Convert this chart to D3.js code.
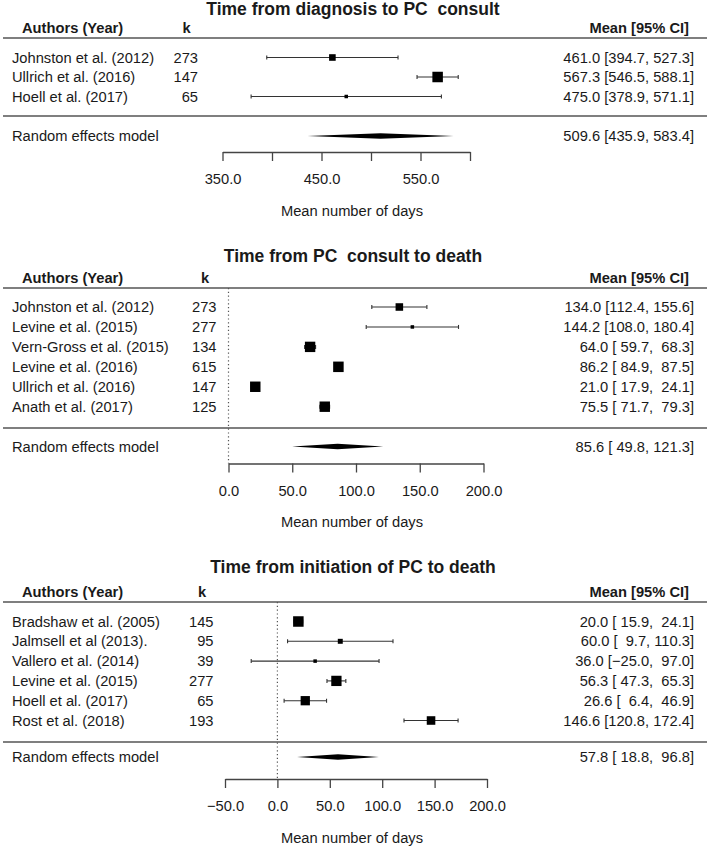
<!DOCTYPE html>
<html>
<head>
<meta charset="utf-8">
<script src="https://cdn.jsdelivr.net/npm/d3@7"></script>
<style>
  body { margin: 0; background: #fff; }
  svg text { font-family: "Liberation Sans", Arial, Helvetica, sans-serif; fill: #1a1a1a; white-space: pre; }
</style>
</head>
<body>
<script>
// ---- data ----
var titles = [
  "Time from diagnosis to PC  consult",
  "Time from PC  consult to death",
  "Time from initiation of PC to death"
];

var p1Studies = ["Johnston et al. (2012)", "Ullrich et al. (2016)", "Hoell et al. (2017)"];
var p1K    = [273, 147, 65];
var p1Mean = [461.0, 567.3, 475.0];
var p1Lo   = [394.7, 546.5, 378.9];
var p1Hi   = [527.3, 588.1, 571.1];
var p1Re   = [509.6, 435.9, 583.4];
var p1Ticks = [350, 400, 450, 500, 550, 600];
var p1TickLabels = ["350.0", "", "450.0", "", "550.0", ""];

var p2Studies = ["Johnston et al. (2012)", "Levine et al. (2015)", "Vern-Gross et al. (2015)",
                 "Levine et al. (2016)", "Ullrich et al. (2016)", "Anath et al. (2017)"];
var p2K    = [273, 277, 134, 615, 147, 125];
var p2Mean = [134.0, 144.2, 64.0, 86.2, 21.0, 75.5];
var p2Lo   = [112.4, 108.0, 59.7, 84.9, 17.9, 71.7];
var p2Hi   = [155.6, 180.4, 68.3, 87.5, 24.1, 79.3];
var p2Re   = [85.6, 49.8, 121.3];
var p2Ticks = [0, 50, 100, 150, 200];
var p2TickLabels = ["0.0", "50.0", "100.0", "150.0", "200.0"];

var p3Studies = ["Bradshaw et al. (2005)", "Jalmsell et al (2013).", "Vallero et al. (2014)",
                 "Levine et al. (2015)", "Hoell et al. (2017)", "Rost et al. (2018)"];
var p3K    = [145, 95, 39, 277, 65, 193];
var p3Mean = [20.0, 60.0, 36.0, 56.3, 26.6, 146.6];
var p3Lo   = [15.9, 9.7, -25.0, 47.3, 6.4, 120.8];
var p3Hi   = [24.1, 110.3, 97.0, 65.3, 46.9, 172.4];
var p3Re   = [57.8, 18.8, 96.8];
var p3Ticks = [-50, 0, 50, 100, 150, 200];
var p3TickLabels = ["\u221250.0", "0.0", "50.0", "100.0", "150.0", "200.0"];

// ---- layout ----
var width = 709, height = 848;
var fontSize = 14.7;

var layouts = [
  { titleY: 15,  headY: 28,  lineTop: 38,  first: 57.5,  last: 96.5,  lineBot: 116, reY: 136, axisY: 152,
    domain: [350, 600], range: [222.5, 470], kX: 198, refLine: false },
  { titleY: 262, headY: 278, lineTop: 288, first: 307,   last: 406.7, lineBot: 428, reY: 446.5, axisY: 463.5,
    domain: [0, 200], range: [228.5, 483.5], kX: 216.5, refLine: true },
  { titleY: 573, headY: 592, lineTop: 602, first: 621.5, last: 720.5, lineBot: 742, reY: 757, axisY: 779,
    domain: [-50, 200], range: [225, 487], kX: 213.5, refLine: true }
];

var panels = [
  { studies: p1Studies, k: p1K, mean: p1Mean, lo: p1Lo, hi: p1Hi, re: p1Re, ticks: p1Ticks, tickLabels: p1TickLabels },
  { studies: p2Studies, k: p2K, mean: p2Mean, lo: p2Lo, hi: p2Hi, re: p2Re, ticks: p2Ticks, tickLabels: p2TickLabels },
  { studies: p3Studies, k: p3K, mean: p3Mean, lo: p3Lo, hi: p3Hi, re: p3Re, ticks: p3Ticks, tickLabels: p3TickLabels }
];

var svg = d3.select("body").append("svg")
    .attr("width", width)
    .attr("height", height);

var minus = function(s) { return s.replace(/-/g, "\u2212"); };

var padLeft = function(s, n) {
  while (s.length < n) s = " " + s;
  return s;
};

// random-effects (DerSimonian-Laird) weights from the CIs, used for square size like metafor
var reWeights = function(p) {
  var vi = p.lo.map(function(l, i) { var se = (p.hi[i] - l) / 3.92; return se * se; });
  var wi = vi.map(function(v) { return 1 / v; });
  var sw = d3.sum(wi);
  var ybar = d3.sum(wi.map(function(w, i) { return w * p.mean[i]; })) / sw;
  var Q = d3.sum(wi.map(function(w, i) { return w * Math.pow(p.mean[i] - ybar, 2); }));
  var C = sw - d3.sum(wi.map(function(w) { return w * w; })) / sw;
  var tau2 = Math.max(0, (Q - (vi.length - 1)) / C);
  return vi.map(function(v) { return 1 / (v + tau2); });
};

panels.forEach(function(p, pi) {
  var L = layouts[pi];
  var g = svg.append("g").attr("class", "panel-" + pi);

  var x = d3.scaleLinear().domain(L.domain).range(L.range);
  var y = d3.scalePoint().domain(d3.range(p.studies.length)).range([L.first, L.last]);

  var w = reWeights(p);
  var size = d3.scaleLinear().domain(d3.extent(w)).range([3.5, 10.5]);

  // text width for CI columns (R pads with spaces)
  var loStr = p.lo.concat([p.re[1]]).map(function(v) { return v.toFixed(1); });
  var hiStr = p.hi.concat([p.re[2]]).map(function(v) { return v.toFixed(1); });
  var loW = d3.max(loStr, function(s) { return s.length; });
  var hiW = d3.max(hiStr, function(s) { return s.length; });
  var ciText = function(m, i) {
    return minus(m.toFixed(1) + " [" + padLeft(loStr[i], loW) + ", " + padLeft(hiStr[i], hiW) + "]");
  };

  // title
  g.append("text")
      .attr("x", 353)
      .attr("y", L.titleY)
      .attr("text-anchor", "middle")
      .attr("font-size", 17.5)
      .attr("font-weight", "bold")
      .text(titles[pi]);

  // headers
  var head = g.append("g")
      .attr("font-size", fontSize)
      .attr("font-weight", "bold");
  head.append("text").attr("x", 22).attr("y", L.headY).attr("dy", "0.35em").text("Authors (Year)");
  head.append("text").attr("x", L.kX - 11.5).attr("y", L.headY).attr("dy", "0.35em")
      .attr("text-anchor", "middle").text("k");
  head.append("text").attr("x", 689).attr("y", L.headY).attr("dy", "0.35em")
      .attr("text-anchor", "end").text("Mean [95% CI]");

  // separator lines
  [L.lineTop, L.lineBot].forEach(function(ly) {
    g.append("line")
        .attr("x1", 3).attr("x2", 707)
        .attr("y1", ly).attr("y2", ly)
        .attr("stroke", "#555")
        .attr("stroke-width", 1.6);
  });

  // reference line at zero
  if (L.refLine) {
    g.append("line")
        .attr("x1", x(0)).attr("x2", x(0))
        .attr("y1", L.lineTop).attr("y2", L.axisY)
        .attr("stroke", "#555")
        .attr("stroke-width", 1.2)
        .attr("stroke-dasharray", "1.2,2.6");
  }

  var rows = g.append("g").attr("class", "rows")
    .selectAll("g")
      .data(p.studies)
    .enter().append("g")
      .attr("transform", function(d, i) { return "translate(0," + y(i) + ")"; });

  rows.append("text")
      .attr("x", 12)
      .attr("dy", "0.35em")
      .attr("font-size", fontSize)
      .text(function(d) { return d; });

  rows.append("text")
      .attr("x", L.kX)
      .attr("dy", "0.35em")
      .attr("text-anchor", "end")
      .attr("font-size", fontSize)
      .text(function(d, i) { return p.k[i]; });

  rows.append("text")
      .attr("x", 694)
      .attr("dy", "0.35em")
      .attr("text-anchor", "end")
      .attr("font-size", fontSize)
      .text(function(d, i) { return ciText(p.mean[i], i); });

  // CI lines with end caps
  rows.append("line")
      .attr("x1", function(d, i) { return x(p.lo[i]); })
      .attr("x2", function(d, i) { return x(p.hi[i]); })
      .attr("stroke", "#333")
      .attr("stroke-width", 1.1);
  rows.append("line")
      .attr("x1", function(d, i) { return x(p.lo[i]); })
      .attr("x2", function(d, i) { return x(p.lo[i]); })
      .attr("y1", -2).attr("y2", 2)
      .attr("stroke", "#333")
      .attr("stroke-width", 1.1);
  rows.append("line")
      .attr("x1", function(d, i) { return x(p.hi[i]); })
      .attr("x2", function(d, i) { return x(p.hi[i]); })
      .attr("y1", -2).attr("y2", 2)
      .attr("stroke", "#333")
      .attr("stroke-width", 1.1);

  rows.append("rect")
      .attr("x", function(d, i) { return x(p.mean[i]) - size(w[i]) / 2; })
      .attr("y", function(d, i) { return -size(w[i]) / 2; })
      .attr("width", function(d, i) { return size(w[i]); })
      .attr("height", function(d, i) { return size(w[i]); })
      .attr("fill", "#000");

  // random effects summary
  g.append("text")
      .attr("x", 12)
      .attr("y", L.reY)
      .attr("dy", "0.35em")
      .attr("font-size", fontSize)
      .text("Random effects model");

  g.append("text")
      .attr("x", 694)
      .attr("y", L.reY)
      .attr("dy", "0.35em")
      .attr("text-anchor", "end")
      .attr("font-size", fontSize)
      .text(ciText(p.re[0], p.lo.length));

  g.append("path")
      .attr("d", "M" + x(p.re[1]) + "," + L.reY +
                 "L" + x(p.re[0]) + "," + (L.reY - 2.8) +
                 "L" + x(p.re[2]) + "," + L.reY +
                 "L" + x(p.re[0]) + "," + (L.reY + 2.8) + "Z")
      .attr("fill", "#000");

  // axis
  var axis = d3.axisBottom(x)
      .tickValues(p.ticks)
      .tickSize(9)
      .tickSizeOuter(0)
      .tickPadding(13)
      .tickFormat(function(d, i) { return p.tickLabels[i]; });

  var ax = g.append("g")
      .attr("transform", "translate(0," + L.axisY + ")")
      .call(axis);
  ax.attr("font-size", fontSize).attr("font-family", null);
  ax.selectAll("path, line").attr("stroke", "#444").attr("stroke-width", 1.3);
  ax.selectAll("text").attr("fill", "#1a1a1a");

  g.append("text")
      .attr("x", 352)
      .attr("y", L.axisY + 58.5)
      .attr("dy", "0.35em")
      .attr("text-anchor", "middle")
      .attr("font-size", fontSize)
      .text("Mean number of days");
});
</script>
</body>
</html>
